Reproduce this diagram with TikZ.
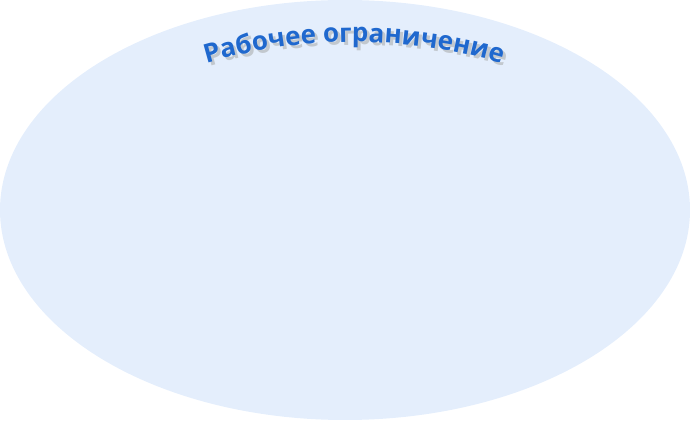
\documentclass[tikz,border=0pt]{standalone}
\usepackage{fontspec}
\newfontfamily\titlefont{Open Sans}[BoldFont={* Bold}]
\usetikzlibrary{decorations.text,shapes.geometric}
\definecolor{ellfill}{HTML}{E4EEFC}
\definecolor{titleblue}{HTML}{1F68CE}
\definecolor{shadowgray}{HTML}{9AA3AD}
\tikzset{
  bg/.style={fill=ellfill, draw=none},
  curvedtext/.style={decorate, decoration={text along path, text align=center,
     text format delimiters={|}{|}, text={#1}}}
}
\begin{document}
\begin{tikzpicture}[x=1pt,y=1pt]
\useasboundingbox (0,0) rectangle (690,420);
\node[bg, ellipse, minimum width=690pt, minimum height=420pt, inner sep=0pt] (ell) at (345,210) {};
\coordinate (cshadow) at (357,-145);
\coordinate (ctext) at (354,-142);
\path[curvedtext={|\titlefont\bfseries\fontsize{26}{30}\selectfont\color{shadowgray!60}|Рабочее ограничение}]
  ([shift={(115:520)}]cshadow) arc[start angle=115, end angle=65, radius=520];
\path[curvedtext={|\titlefont\bfseries\fontsize{26}{30}\selectfont\color{titleblue}|Рабочее ограничение}]
  ([shift={(115:520)}]ctext) arc[start angle=115, end angle=65, radius=520];
\end{tikzpicture}
\end{document}
